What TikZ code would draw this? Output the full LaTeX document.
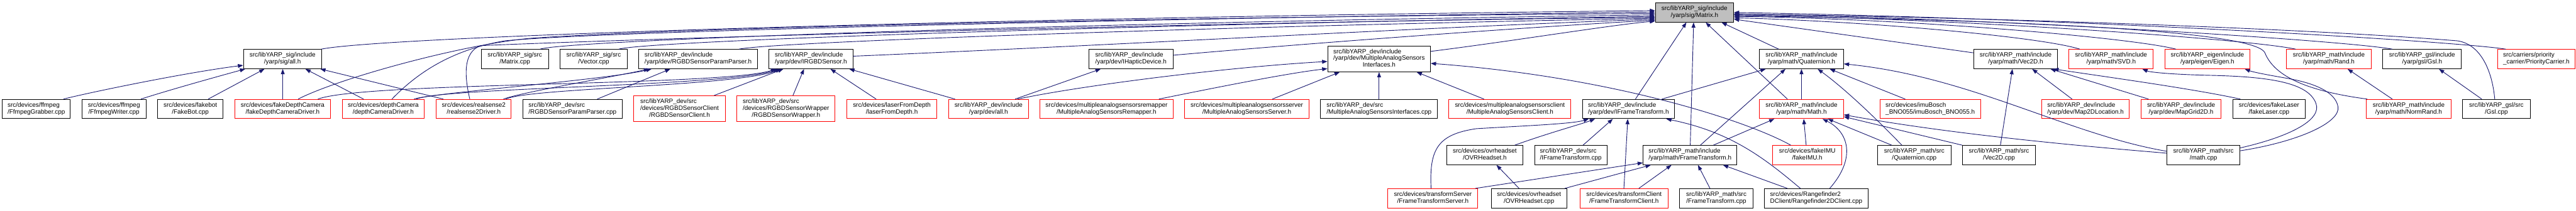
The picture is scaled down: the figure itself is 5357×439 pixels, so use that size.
\documentclass[tikz,border=0pt]{standalone}
\usepackage{fontspec}
\setmainfont{Liberation Sans}
\usetikzlibrary{arrows.meta}
\definecolor{edgec}{HTML}{191970}
\definecolor{rootfill}{HTML}{BFBFBF}
\newcommand\ltwo[2]{\begin{tabular}{@{}l@{}}#1\\\multicolumn{1}{@{}c@{}}{#2}\end{tabular}}
\newcommand\lthree[3]{\begin{tabular}{@{}l@{}}#1\\#2\\\multicolumn{1}{@{}c@{}}{#3}\end{tabular}}
\newcommand\mknode[6]{\node[#1, minimum width=#4pt] (#2) at (#3,-#5) {#6};}
\tikzset{
 nb/.style={draw=black, line width=1.3pt, fill=white, inner sep=0pt, minimum height=40pt, font=\fontsize{13}{14}\selectfont, text=black},
 nr/.style={nb, draw=red},
 nroot/.style={nb, fill=rootfill},
 tall/.style={minimum height=54pt},
 edge/.style={draw=edgec, line width=1.2pt, -{Triangle[length=11pt,width=8pt]}},
}
\begin{document}
\begin{tikzpicture}[x=1pt,y=1pt]
\useasboundingbox (0,0) rectangle (5357,-439);
% root
\mknode{nroot}{M}{3523.8}{162.5}{26}{\ltwo{src/libYARP\_sig/include}{/yarp/sig/Matrix.h}}
% row 1
\mknode{nb}{sigall}{587.5}{162.2}{123}{\ltwo{src/libYARP\_sig/include}{/yarp/sig/all.h}}
\mknode{nb}{mcpp}{1070.7}{140}{123}{\ltwo{src/libYARP\_sig/src}{/Matrix.cpp}}
\mknode{nb}{vcpp}{1234.6}{140.7}{123}{\ltwo{src/libYARP\_sig/src}{/Vector.cpp}}
\mknode{nb}{ppH}{1451.8}{247.2}{123}{\ltwo{src/libYARP\_dev/include}{/yarp/dev/RGBDSensorParamParser.h}}
\mknode{nb}{irgbd}{1686.3}{174.7}{123}{\ltwo{src/libYARP\_dev/include}{/yarp/dev/IRGBDSensor.h}}
\mknode{nb}{ihap}{2351.8}{175}{123}{\ltwo{src/libYARP\_dev/include}{/yarp/dev/IHapticDevice.h}}
\mknode{nb,tall}{masI}{2867.9}{213.5}{122.5}{\lthree{src/libYARP\_dev/include}{/yarp/dev/MultipleAnalogSensors}{Interfaces.h}}
\mknode{nb}{quat}{3746.3}{174.7}{123}{\ltwo{src/libYARP\_math/include}{/yarp/math/Quaternion.h}}
\mknode{nb}{vec2dh}{4191.6}{174.6}{123}{\ltwo{src/libYARP\_math/include}{/yarp/math/Vec2D.h}}
\mknode{nr}{svd}{4390.2}{175.4}{123}{\ltwo{src/libYARP\_math/include}{/yarp/math/SVD.h}}
\mknode{nr}{eigen}{4590.4}{177.1}{123}{\ltwo{src/libYARP\_eigen/include}{/yarp/eigen/Eigen.h}}
\mknode{nr}{rand}{4842.9}{175.7}{123}{\ltwo{src/libYARP\_math/include}{/yarp/math/Rand.h}}
\mknode{nb}{gslh}{5037}{163.2}{123}{\ltwo{src/libYARP\_gsl/include}{/yarp/gsl/Gsl.h}}
\mknode{nr}{prio}{5274.3}{160.7}{123}{\ltwo{src/carriers/priority}{\_carrier/PriorityCarrier.h}}
% row 2
\mknode{nb}{ffg}{75.5}{141.8}{227}{\ltwo{src/devices/ffmpeg}{/FfmpegGrabber.cpp}}
\mknode{nb}{ffw}{237}{133.2}{227}{\ltwo{src/devices/ffmpeg}{/FfmpegWriter.cpp}}
\mknode{nb}{fakebot}{395.8}{135.7}{227}{\ltwo{src/devices/fakebot}{/FakeBot.cpp}}
\mknode{nr}{fdcd}{587.7}{198.9}{227}{\ltwo{src/devices/fakeDepthCamera}{/fakeDepthCameraDriver.h}}
\mknode{nr}{dcd}{797}{170.3}{227}{\ltwo{src/devices/depthCamera}{/depthCameraDriver.h}}
\mknode{nr}{rs2}{985.2}{156.1}{227}{\ltwo{src/devices/realsense2}{/realsense2Driver.h}}
\mknode{nb}{ppcpp}{1190.4}{206.5}{227}{\ltwo{src/libYARP\_dev/src}{/RGBDSensorParamParser.cpp}}
\mknode{nr,tall}{rgbdc}{1413.1}{189.7}{226.5}{\lthree{src/libYARP\_dev/src}{/devices/RGBDSensorClient}{/RGBDSensorClient.h}}
\mknode{nr,tall}{rgbdw}{1634.5}{203.9}{226.5}{\lthree{src/libYARP\_dev/src}{/devices/RGBDSensorWrapper}{/RGBDSensorWrapper.h}}
\mknode{nr}{lfd}{1854.7}{186.5}{227}{\ltwo{src/devices/laserFromDepth}{/laserFromDepth.h}}
\mknode{nr}{devall}{2055.7}{166.4}{227}{\ltwo{src/libYARP\_dev/include}{/yarp/dev/all.h}}
\mknode{nr}{masR}{2301.1}{276.4}{227}{\ltwo{src/devices/multipleanalogsensorsremapper}{/MultipleAnalogSensorsRemapper.h}}
\mknode{nr}{masS}{2592.9}{259.3}{227}{\ltwo{src/devices/multipleanalogsensorsserver}{/MultipleAnalogSensorsServer.h}}
\mknode{nb}{masIcpp}{2867.9}{242.9}{227}{\ltwo{src/libYARP\_dev/src}{/MultipleAnalogSensorsInterfaces.cpp}}
\mknode{nr}{masC}{3139.9}{253.9}{227}{\ltwo{src/devices/multipleanalogsensorsclient}{/MultipleAnalogSensorsClient.h}}
\mknode{nb}{ift}{3386.5}{190.7}{227}{\ltwo{src/libYARP\_dev/include}{/yarp/dev/IFrameTransform.h}}
\mknode{nr}{mathh}{3746.3}{174.7}{227}{\ltwo{src/libYARP\_math/include}{/yarp/math/Math.h}}
\mknode{nr}{imu}{4014.1}{209.6}{227}{\ltwo{src/devices/imuBosch}{\_BNO055/imuBosch\_BNO055.h}}
\mknode{nr}{m2dl}{4337}{182.5}{227}{\ltwo{src/libYARP\_dev/include}{/yarp/dev/Map2DLocation.h}}
\mknode{nr}{mgrid}{4535.7}{166.4}{227}{\ltwo{src/libYARP\_dev/include}{/yarp/dev/MapGrid2D.h}}
\mknode{nb}{flaser}{4718.6}{150.7}{227}{\ltwo{src/devices/fakeLaser}{/fakeLaser.cpp}}
\mknode{nr}{normrand}{5009}{175.7}{227}{\ltwo{src/libYARP\_math/include}{/yarp/math/NormRand.h}}
\mknode{nb}{gslcpp}{5191.3}{141.1}{227}{\ltwo{src/libYARP\_gsl/src}{/Gsl.cpp}}
% row 3
\mknode{nb}{ovrh}{3087.7}{157.5}{323}{\ltwo{src/devices/ovrheadset}{/OVRHeadset.h}}
\mknode{nb}{iftcpp}{3266.6}{150.4}{323}{\ltwo{src/libYARP\_dev/src}{/IFrameTransform.cpp}}
\mknode{nb}{mft}{3514.5}{194.7}{323}{\ltwo{src/libYARP\_math/include}{/yarp/math/FrameTransform.h}}
\mknode{nr}{fimu}{3758.4}{143.2}{323}{\ltwo{src/devices/fakeIMU}{/fakeIMU.h}}
\mknode{nb}{qcpp}{3980.9}{152.5}{323}{\ltwo{src/libYARP\_math/src}{/Quaternion.cpp}}
\mknode{nb}{v2cpp}{4157}{151.8}{323}{\ltwo{src/libYARP\_math/src}{/Vec2D.cpp}}
\mknode{nb}{mathcpp}{4582.3}{151.8}{323}{\ltwo{src/libYARP\_math/src}{/math.cpp}}
% row 4
\mknode{nr}{fts}{2979.8}{186.8}{413}{\ltwo{src/devices/transformServer}{/FrameTransformServer.h}}
\mknode{nb}{ovrcpp}{3179.7}{157.1}{413}{\ltwo{src/devices/ovrheadset}{/OVRHeadset.cpp}}
\mknode{nr}{ftc}{3377.2}{182.9}{413}{\ltwo{src/devices/transformClient}{/FrameTransformClient.h}}
\mknode{nb}{ftcpp}{3569.2}{152.5}{413}{\ltwo{src/libYARP\_math/src}{/FrameTransform.cpp}}
\mknode{nb}{rf2d}{3777}{216.8}{413}{\ltwo{src/devices/Rangefinder2}{DClient/Rangefinder2DClient.cpp}}

% ---- edges into sig/all.h
\draw[edge] (132,0 |- ffg.north) .. controls (175,-195) and (380,-152) .. (sigall.west |- 0,-136);
\draw[edge] (293,0 |- ffw.north) .. controls (350,-188) and (450,-160) .. (510,0 |- sigall.south);
\draw[edge] (433,0 |- fakebot.north) -- (550,0 |- sigall.south);
\draw[edge] (588,0 |- fdcd.north) -- (588,0 |- sigall.south);
\draw[edge] (756,0 |- dcd.north) -- (635,0 |- sigall.south);
\draw[edge] (922,0 |- rs2.north) -- (666,0 |- sigall.south);
% ---- into RGBDSensorParamParser.h
\draw[edge] (861,0 |- dcd.north) .. controls (900,-193) and (1250,-168) .. (1355,0 |- ppH.south);
\draw[edge] (1047,0 |- rs2.north) .. controls (1085,-192) and (1260,-163) .. (1350,0 |- ppH.south);
\draw[edge] (1242,0 |- ppcpp.north) -- (1394,0 |- ppH.south);
% ---- into IRGBDSensor.h
\draw[edge] (661,0 |- fdcd.north) .. controls (760,-170) and (1500,-180) .. (1614,0 |- irgbd.south);
\draw[edge] (866,0 |- dcd.north) .. controls (920,-182) and (1515,-180) .. (1619,0 |- irgbd.south);
\draw[edge] (1052,0 |- rs2.north) .. controls (1100,-183) and (1530,-180) .. (1624,0 |- irgbd.south);
\draw[edge] (1485,0 |- rgbdc.north) -- (1629,0 |- irgbd.south);
\draw[edge] (1649,0 |- rgbdw.north) -- (1672,0 |- irgbd.south);
\draw[edge] (1822,0 |- lfd.north) -- (1727,0 |- irgbd.south);
\draw[edge] (1986,0 |- devall.north) -- (1766,0 |- irgbd.south);
% ---- IHapticDevice, MultipleAnalogSensorsInterfaces
\draw[edge] (2111,0 |- devall.north) -- (2289,0 |- ihap.south);
\draw[edge] (2116,0 |- devall.north) .. controls (2250,-178) and (2550,-140) .. (masI.west |- 0,-128);
\draw[edge] (2410,0 |- masR.north) .. controls (2530,-182) and (2680,-152) .. (masI.west |- 0,-143);
\draw[edge] (2646,0 |- masS.north) -- (2786,0 |- masI.south);
\draw[edge] (masIcpp.north) -- (masI.south);
\draw[edge] (3086,0 |- masC.north) -- (2946,0 |- masI.south);
\draw[edge] (3724,0 |- fimu.north) .. controls (3630,-250) and (3350,-160) .. (masI.east |- 0,-132);
% ---- into IFrameTransform.h
\draw[edge] (2976,0 |- fts.north) .. controls (2972,-310) and (2990,-280) .. (3070,-268) .. controls (3170,-262) and (3270,-258) .. (3304,0 |- ift.south);
\draw[edge] (3150,0 |- ovrh.north) .. controls (3220,-277) and (3290,-258) .. (3317,0 |- ift.south);
\draw[edge] (3292,0 |- iftcpp.north) -- (3354,0 |- ift.south);
\draw[edge] (3377,0 |- ftc.north) -- (3385,0 |- ift.south);
\draw[edge] (3744,0 |- rf2d.north) .. controls (3670,-330) and (3600,-275) .. (3465,0 |- ift.south);
\draw[edge] (3159,0 |- ovrcpp.north) -- (3112,0 |- ovrh.south);
% ---- into math/FrameTransform.h
\draw[edge] (3068,0 |- fts.north) -- (mft.west |- 0,-339);
\draw[edge] (3254,0 |- ovrcpp.north) -- (3433,0 |- mft.south);
\draw[edge] (3408,0 |- ftc.north) -- (3476,0 |- mft.south);
\draw[edge] (3556,0 |- ftcpp.north) -- (3531,0 |- mft.south);
\draw[edge] (3717,0 |- rf2d.north) -- (3583,0 |- mft.south);
% ---- into Quaternion.h
\draw[edge] (3456,0 |- ift.north) -- (3672,0 |- quat.south);
\draw[edge] (3536,0 |- mft.north) -- (3713,0 |- quat.south);
\draw[edge] (mathh.north) -- (quat.south);
\draw[edge] (3955,0 |- qcpp.north) .. controls (3890,-235) and (3830,-180) .. (3780,0 |- quat.south);
\draw[edge] (3962,0 |- imu.north) -- (3805,0 |- quat.south);
\draw[edge] (mathcpp.west |- 0,-315) .. controls (4300,-280) and (4100,-160) .. (quat.east |- 0,-133);
% ---- into Math.h
\draw[edge] (3563,0 |- mft.north) -- (3690,0 |- mathh.south);
\draw[edge] (3756,0 |- fimu.north) -- (3751,0 |- mathh.south);
\draw[edge] (3805,0 |- rf2d.north) .. controls (3860,-330) and (3845,-275) .. (3790,0 |- mathh.south);
\draw[edge] (3934,0 |- qcpp.north) -- (3801,0 |- mathh.south);
\draw[edge] (v2cpp.north west) -- (mathh.east |- 0,-243);
\draw[edge] (mathcpp.west |- 0,-319) .. controls (4300,-302) and (4050,-278) .. (mathh.east |- 0,-239);
% ---- into Vec2D.h
\draw[edge] (4160,0 |- v2cpp.north) -- (4185,0 |- vec2dh.south);
\draw[edge] (4309,0 |- m2dl.north) -- (4226,0 |- vec2dh.south);
\draw[edge] (4468,0 |- mgrid.north) -- (4264,0 |- vec2dh.south);
\draw[edge] (4659,0 |- flaser.north) .. controls (4560,-185) and (4400,-163) .. (4270,0 |- vec2dh.south);
% ---- into SVD.h, Eigen.h, Rand.h, Gsl.h
\draw[edge] (mathcpp.east |- 0,-308) .. controls (4760,-285) and (4830,-250) .. (4816,-215) .. controls (4800,-172) and (4720,-160) .. (4600,-157) .. controls (4510,-155) and (4470,-150) .. (4455,0 |- svd.south);
\draw[edge] (mathcpp.east |- 0,-314) .. controls (4780,-295) and (4868,-255) .. (4862,-222) .. controls (4856,-190) and (4810,-172) .. (4750,-162) .. controls (4710,-155) and (4685,-150) .. (4668,0 |- eigen.south);
\draw[edge] (4975,0 |- normrand.north) -- (4882,0 |- rand.south);
\draw[edge] (5161,0 |- gslcpp.north) -- (5072,0 |- gslh.south);
% ---- into Matrix.h from below
\draw[edge] (3401,0 |- ift.north) -- (3507,0 |- M.south);
\draw[edge] (3515,0 |- mft.north) -- (3522,0 |- M.south);
\draw[edge] (3717,0 |- mathh.north) -- (3547,0 |- M.south);
\draw[edge] (3699,0 |- quat.north) -- (3580,0 |- M.south);
% ---- into Matrix.h from the left
\draw[edge] (668,0 |- sigall.north) .. controls (800,-76) and (2000,-38) .. (M.west |- 0,-22);
\draw[edge] (620,0 |- fdcd.north) .. controls (700,-165) and (950,-95) .. (1100,-80) .. controls (1400,-58) and (2400,-36) .. (M.west |- 0,-28);
\draw[edge] (815,0 |- dcd.north) .. controls (860,-160) and (930,-105) .. (1050,-85) .. controls (1250,-65) and (2400,-38) .. (M.west |- 0,-25);
\draw[edge] (977,0 |- rs2.north) .. controls (966,-160) and (962,-108) .. (1000,-95) .. controls (1300,-82) and (2400,-48) .. (M.west |- 0,-36);
\draw[edge] (1123,0 |- mcpp.north) .. controls (1180,-84) and (2200,-48) .. (M.west |- 0,-31);
\draw[edge] (1287,0 |- vcpp.north) .. controls (1340,-86) and (2300,-52) .. (M.west |- 0,-34);
\draw[edge] (1537,0 |- ppH.north) .. controls (1600,-88) and (2500,-56) .. (M.west |- 0,-38);
\draw[edge] (irgbd.east |- 0,-117) .. controls (2300,-95) and (3000,-55) .. (M.west |- 0,-40);
\draw[edge] (ihap.east |- 0,-115) .. controls (2700,-92) and (3150,-58) .. (M.west |- 0,-42);
\draw[edge] (masI.east |- 0,-107) .. controls (3150,-85) and (3350,-52) .. (M.west |- 0,-44);
% ---- into Matrix.h from the right
\draw[edge] (vec2dh.west |- 0,-110) -- (M.east |- 0,-40);
\draw[edge] (4325,0 |- svd.north) .. controls (4250,-78) and (3900,-45) .. (M.east |- 0,-37);
\draw[edge] (4525,0 |- eigen.north) .. controls (4440,-80) and (4000,-40) .. (M.east |- 0,-34);
\draw[edge] (4774,0 |- rand.north) .. controls (4680,-82) and (4100,-40) .. (M.east |- 0,-31);
\draw[edge] (4975,0 |- gslh.north) .. controls (4880,-85) and (4200,-40) .. (M.east |- 0,-29);
\draw[edge] (5211,0 |- prio.north) .. controls (5100,-85) and (4300,-38) .. (M.east |- 0,-26);
\draw[edge] (4923,0 |- normrand.north) .. controls (4800,-190) and (4730,-160) .. (4710,-110) .. controls (4695,-75) and (4400,-45) .. (M.east |- 0,-33);
\draw[edge] (5188,0 |- gslcpp.north) .. controls (5183,-150) and (5160,-92) .. (5110,-85) .. controls (4800,-60) and (4200,-38) .. (M.east |- 0,-29);
\end{tikzpicture}
\end{document}
